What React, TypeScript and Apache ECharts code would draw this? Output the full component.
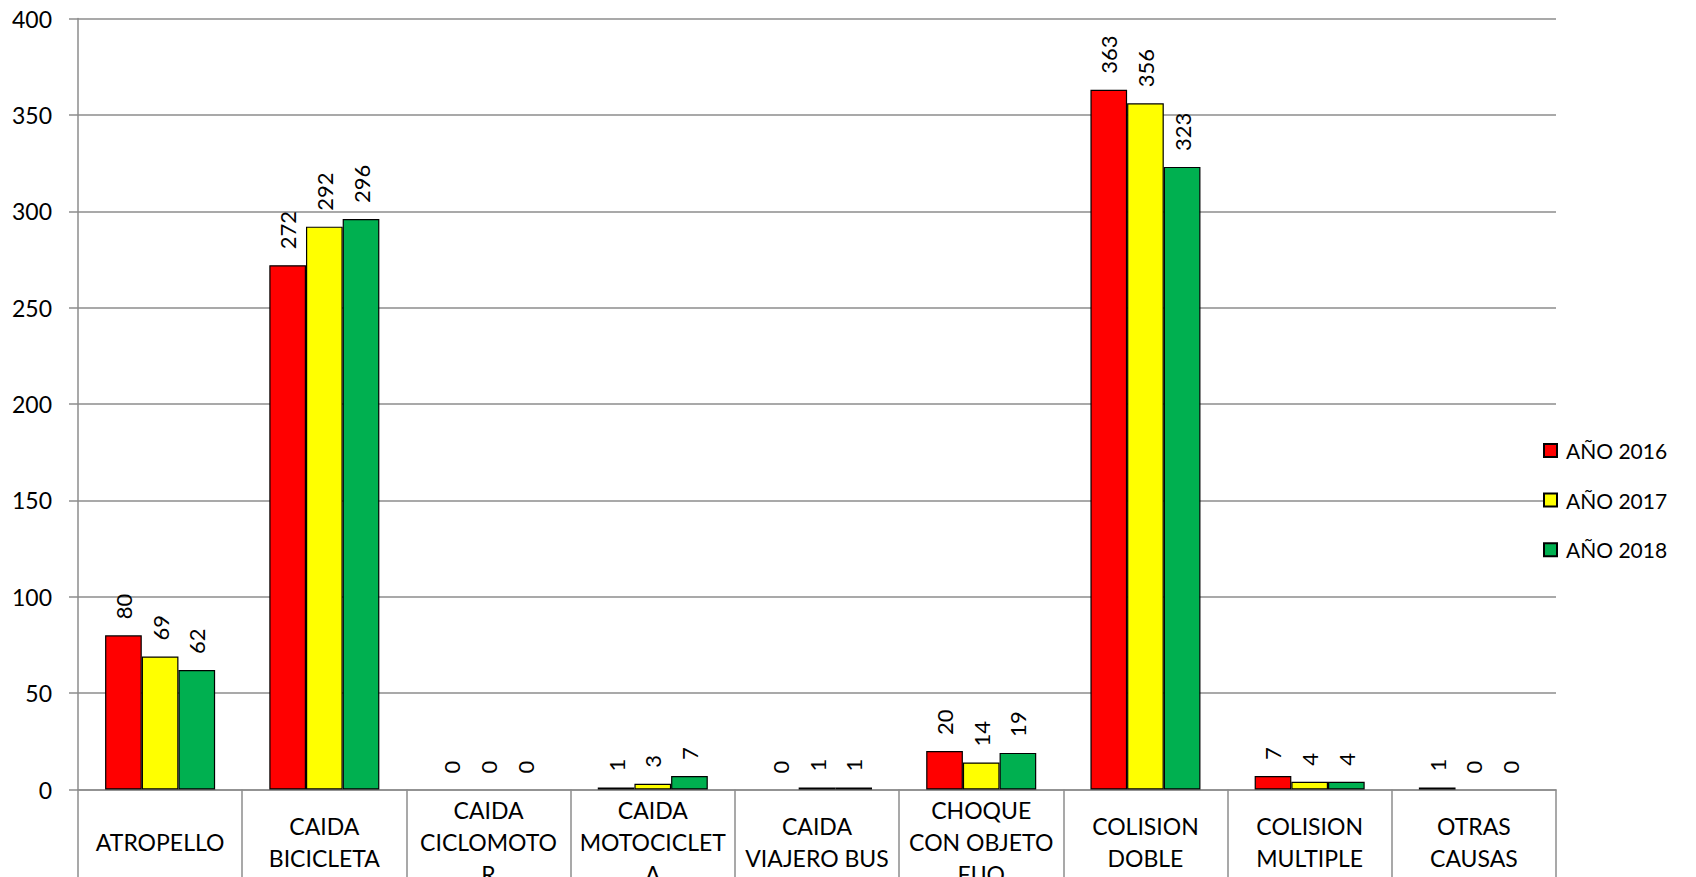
import React, { useEffect, useRef } from "react";
import * as echarts from "echarts";

const categories = [
  "ATROPELLO",
  "CAIDA BICICLETA",
  "CAIDA CICLOMOTOR",
  "CAIDA MOTOCICLETA",
  "CAIDA VIAJERO BUS",
  "CHOQUE CON OBJETO FIJO",
  "COLISION DOBLE",
  "COLISION MULTIPLE",
  "OTRAS CAUSAS",
];

const categoryLabels = [
  "ATROPELLO",
  "CAIDA\nBICICLETA",
  "CAIDA\nCICLOMOTO\nR",
  "CAIDA\nMOTOCICLET\nA",
  "CAIDA\nVIAJERO BUS",
  "CHOQUE\nCON OBJETO\nFIJO",
  "COLISION\nDOBLE",
  "COLISION\nMULTIPLE",
  "OTRAS\nCAUSAS",
];

const seriesNames = ["AÑO 2016", "AÑO 2017", "AÑO 2018"];
const values2016 = [80, 272, 0, 1, 0, 20, 363, 7, 1];
const values2017 = [69, 292, 0, 3, 1, 14, 356, 4, 0];
const values2018 = [62, 296, 0, 7, 1, 19, 323, 4, 0];
const seriesColors = ["#FF0000", "#FFFF00", "#00B050"];

const yTicks = { min: 0, max: 400, interval: 50 };

const FONT = "Lato, 'Noto Sans', sans-serif";
const GRID_COLOR = "#8c8c8c";

export default function App() {
  const ref = useRef<HTMLDivElement>(null);

  useEffect(() => {
    document.body.style.margin = "0";
    document.body.style.overflow = "hidden";
    if (!ref.current) return;
    const chart = echarts.init(ref.current, null, { renderer: "svg" });

    const allValues = [values2016, values2017, values2018];
    const series = allValues.map((vals, i) => ({
      name: seriesNames[i],
      type: "bar",
      barGap: "0%",
      barCategoryGap: "33%",
      itemStyle: {
        color: seriesColors[i],
        borderColor: "#000000",
        borderWidth: 1.2,
      },
      label: {
        show: true,
        position: "top",
        rotate: 90,
        align: "left",
        verticalAlign: "middle",
        distance: 16,
        color: "#000000",
        fontFamily: FONT,
        fontSize: 22,
      },
      data: vals.map((v) =>
        v === 0 ? { value: 0, itemStyle: { borderWidth: 0 } } : v
      ),
    }));

    chart.setOption({
      animation: false,
      backgroundColor: "#ffffff",
      textStyle: { fontFamily: FONT },
      grid: {
        left: 78,
        right: 140,
        top: 18.5,
        bottom: 87.5,
        containLabel: false,
        outerBoundsMode: "none",
      },
      legend: {
        orient: "vertical",
        left: 1543,
        top: 440,
        padding: 0,
        itemWidth: 13,
        itemHeight: 13,
        itemGap: 28.6,
        icon: "rect",
        data: seriesNames,
        textStyle: {
          fontFamily: FONT,
          fontSize: 21,
          lineHeight: 20,
          color: "#000000",
          padding: [0, 0, 0, 4],
        },
      },
      xAxis: {
        type: "category",
        data: categories,
        boundaryGap: true,
        axisLine: { show: true, lineStyle: { color: GRID_COLOR, width: 1.5 } },
        axisTick: {
          show: true,
          interval: 0,
          alignWithLabel: false,
          length: 120,
          lineStyle: { color: GRID_COLOR, width: 1.5 },
        },
        axisLabel: {
          interval: 0,
          margin: 52,
          verticalAlign: "middle",
          fontFamily: FONT,
          fontSize: 23,
          lineHeight: 32,
          color: "#000000",
          formatter: (_v: string, idx: number) => categoryLabels[idx],
        },
      },
      yAxis: {
        type: "value",
        min: yTicks.min,
        max: yTicks.max,
        interval: yTicks.interval,
        axisLine: { show: true, lineStyle: { color: GRID_COLOR, width: 1.5 } },
        axisTick: {
          show: true,
          length: 9,
          lineStyle: { color: GRID_COLOR, width: 1.5 },
        },
        splitLine: { show: true, lineStyle: { color: GRID_COLOR, width: 1.5 } },
        axisLabel: {
          margin: 26,
          fontFamily: FONT,
          fontSize: 23,
          color: "#000000",
        },
      },
      series,
    });

    return () => {
      chart.dispose();
    };
  }, []);

  return <div ref={ref} style={{ width: 1696, height: 877 }} />;
}
